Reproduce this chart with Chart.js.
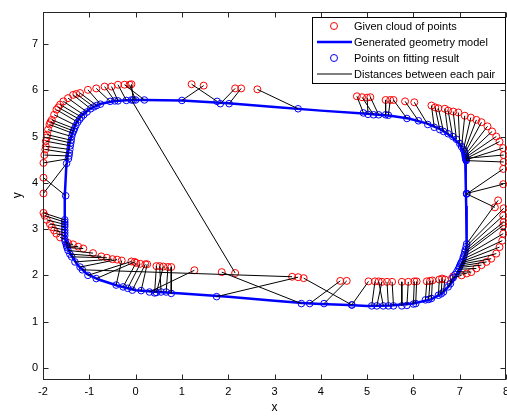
<!DOCTYPE html>
<html>
<head>
<meta charset="utf-8">
<script src="https://cdn.jsdelivr.net/npm/chart.js@4.4.1/dist/chart.umd.min.js"></script>
<style>
  html, body { margin: 0; padding: 0; background: #fff; overflow: hidden; }
  #wrap { width: 507px; height: 416px; overflow: hidden; }
</style>
</head>
<body>
<div id="wrap"><canvas id="grafico" width="511" height="416"></canvas></div>
<script>
var xTicks = [-2, -1, 0, 1, 2, 3, 4, 5, 6, 7, 8];
var yTicks = [0, 1, 2, 3, 4, 5, 6, 7];

// given cloud of points (red) and the matching points on the fitted model (blue), pair by pair
var cloudX = [-1.99, -1.99, -1.99, -1.97, -1.95, -1.94, -1.94, -1.92, -1.91, -1.89, -1.86, -1.84, -1.81, -1.76, -1.71, -1.67, -1.63, -1.56, -1.46, -1.35, -1.28, -1.20, -1.03, -0.85, -0.67, -0.52, -0.38, -0.24, -0.13, -0.09,
  1.21, 1.47, 2.15, 2.28, 2.63, 4.78, 4.89, 5.00, 5.07, 5.40, 5.50, 5.57, 5.82, 6.02,
  6.39, 6.47, 6.54, 6.68, 6.75, 6.86, 6.97, 7.11, 7.24, 7.36, 7.47, 7.60, 7.70, 7.79, 7.86, 7.94, 7.95, 7.95, 7.94, 7.94, 7.76,
  7.83, 7.95, 7.94, 7.95, 7.94, 7.94, 7.92, 7.86, 7.79, 7.68, 7.58, 7.47, 7.36, 7.25, 7.15, 7.04,
  6.86, 6.83, 6.68, 6.62, 6.56, 6.41, 6.36, 6.29, 6.07, 6.02, 5.89, 5.75, 5.54, 5.43, 5.32, 5.25, 5.17, 5.03,
  4.56, 4.42, 3.63, 3.51, 3.38, 2.15, 1.86, 1.27,
  0.77, 0.70, 0.60, 0.52, 0.45, 0.25, 0.21, 0.10, 0.01, -0.02, -0.09, -0.30,
  -0.40, -0.50, -0.62, -0.74, -0.92, -1.13, -1.24, -1.35, -1.46, -1.63, -1.71, -1.76, -1.81, -1.85, -1.92, -1.96, -1.99];
var cloudY = [4.11, 3.77, 4.43, 4.60, 4.72, 4.79, 4.90, 4.98, 5.04, 5.15, 5.26, 5.31, 5.36, 5.47, 5.58, 5.63, 5.69, 5.76, 5.83, 5.90, 5.92, 5.94, 6.01, 6.04, 6.08, 6.08, 6.12, 6.12, 6.12, 6.13,
  6.13, 6.10, 6.04, 6.04, 6.02, 5.87, 5.85, 5.84, 5.85, 5.79, 5.79, 5.79, 5.76, 5.74,
  5.67, 5.63, 5.61, 5.60, 5.56, 5.54, 5.52, 5.45, 5.41, 5.36, 5.31, 5.22, 5.11, 5.00, 4.89, 4.75, 4.60, 4.45, 4.30, 3.97, 3.47,
  3.62, 3.45, 3.29, 3.15, 3.08, 2.90, 2.75, 2.61, 2.47, 2.36, 2.29, 2.22, 2.15, 2.07, 2.04, 2.00,
  1.98, 1.93, 1.91, 1.93, 1.91, 1.89, 1.88, 1.87, 1.87, 1.87, 1.86, 1.86, 1.86, 1.86, 1.86, 1.87, 1.87, 1.87,
  1.88, 1.88, 1.94, 1.96, 1.97, 2.05, 2.07, 2.11,
  2.18, 2.18, 2.19, 2.20, 2.20, 2.24, 2.24, 2.25, 2.27, 2.29, 2.30, 2.32,
  2.34, 2.35, 2.38, 2.41, 2.48, 2.58, 2.62, 2.67, 2.70, 2.82, 2.90, 2.97, 3.04, 3.11, 3.20, 3.29, 3.35];
var fitX = [-1.51, -1.49, -1.45, -1.44, -1.43, -1.42, -1.41, -1.40, -1.39, -1.38, -1.36, -1.34, -1.32, -1.29, -1.25, -1.21, -1.17, -1.12, -1.05, -0.97, -0.90, -0.84, -0.76, -0.55, -0.45, -0.38, -0.20, 0.19, 0.00, -0.05,
  1.76, 1.00, 1.83, 2.02, 3.51, 4.92, 5.14, 5.02, 5.25, 5.40, 5.46, 5.86, 6.11, 6.31,
  6.45, 6.57, 6.65, 6.75, 6.85, 6.93, 7.00, 7.04, 7.08, 7.10, 7.11, 7.12, 7.12, 7.13, 7.13, 7.14, 7.13, 7.14, 7.15, 7.15, 7.15,
  7.15, 7.14, 7.12, 7.11, 7.10, 7.08, 7.07, 7.05, 7.03, 7.02, 7.00, 6.99, 6.97, 6.94, 6.90, 6.86,
  6.80, 6.75, 6.65, 6.60, 6.54, 6.39, 6.33, 6.26, 6.05, 6.00, 5.86, 5.75, 5.57, 5.46, 5.21, 5.35, 5.10, 4.67,
  4.07, 3.76, 4.67, 1.75, -1.15, -0.09, 3.58, 0.30,
  0.77, 0.66, 0.45, 0.55, 0.41, 0.12, -0.07, -0.17, -0.27, -0.85, -1.03, -0.42,
  -1.20, -1.31, -1.38, -1.42, -1.46, -1.48, -1.49, -1.50, -1.52, -1.53, -1.53, -1.53, -1.53, -1.53, -1.53, -1.53, -1.53];
var fitY = [3.72, 4.42, 4.52, 4.58, 4.64, 4.72, 4.80, 4.86, 4.92, 5.00, 5.07, 5.12, 5.17, 5.24, 5.31, 5.37, 5.42, 5.47, 5.53, 5.60, 5.64, 5.67, 5.70, 5.76, 5.77, 5.77, 5.78, 5.79, 5.79, 5.79,
  5.76, 5.78, 5.71, 5.71, 5.60, 5.51, 5.47, 5.48, 5.47, 5.47, 5.46, 5.39, 5.34, 5.26,
  5.20, 5.15, 5.11, 5.06, 5.00, 4.94, 4.85, 4.78, 4.72, 4.68, 4.64, 4.60, 4.57, 4.55, 4.52, 4.50, 4.53, 4.48, 3.76, 3.77, 3.76,
  2.68, 2.62, 2.55, 2.50, 2.45, 2.40, 2.35, 2.30, 2.27, 2.24, 2.20, 2.17, 2.13, 2.08, 2.02, 1.95,
  1.82, 1.75, 1.64, 1.60, 1.57, 1.50, 1.48, 1.47, 1.39, 1.38, 1.35, 1.34, 1.34, 1.34, 1.34, 1.34, 1.34, 1.36,
  1.39, 1.39, 1.36, 1.54, 2.12, 5.79, 1.39, 1.64,
  1.61, 1.64, 1.63, 1.64, 1.62, 1.67, 1.68, 1.72, 1.75, 1.93, 2.00, 1.79,
  2.18, 2.29, 2.40, 2.46, 2.54, 2.60, 2.64, 2.68, 2.73, 2.78, 2.86, 2.92, 2.98, 3.05, 3.10, 3.15, 3.20];

// generated geometry model (closed outline)
var modelX = [-0.1, 0.2, 1.0, 2.0, 3.0, 4.0, 5.0, 5.5, 5.9, 6.3, 6.6, 6.85, 7.0, 7.08, 7.12, 7.13, 7.14, 7.15, 7.15, 7.12, 7.06, 6.96, 6.82, 6.62, 6.38, 6.0, 5.5, 5.0, 4.6, 4.0, 3.6, 3.0, 2.0, 1.0, 0.5, 0.0, -0.4, -0.8, -1.05, -1.25, -1.4, -1.48, -1.52, -1.53, -1.53, -1.5, -1.47, -1.43, -1.38, -1.3, -1.18, -1.0, -0.75, -0.45, -0.1];
var modelY = [5.79, 5.79, 5.78, 5.72, 5.64, 5.56, 5.49, 5.45, 5.39, 5.28, 5.15, 4.98, 4.83, 4.68, 4.5, 4.0, 3.5, 3.0, 2.65, 2.47, 2.28, 2.07, 1.83, 1.61, 1.48, 1.39, 1.35, 1.34, 1.36, 1.38, 1.40, 1.45, 1.54, 1.61, 1.64, 1.68, 1.78, 1.91, 2.03, 2.22, 2.45, 2.62, 2.8, 3.2, 3.7, 4.3, 4.58, 4.84, 5.03, 5.26, 5.44, 5.59, 5.71, 5.77, 5.79];

var nomes = ["Given cloud of points", "Generated geometry model", "Points on fitting result", "Distances between each pair"];

var fonte = "'Liberation Sans', Arial, sans-serif";

var pontos = function (xs, ys) {
  return xs.map(function (x, i) { return {x: x, y: ys[i]}; });
};

var distancias = [];
cloudX.forEach(function (x, i) {
  distancias.push({x: x, y: cloudY[i]}, {x: fitX[i], y: fitY[i]}, {x: null, y: null});
});

// box, inward ticks and the legend, MATLAB style
var moldura = {
  id: 'moldura',
  afterDraw: function (chart) {
    var ctx = chart.ctx, a = chart.chartArea;
    var sx = chart.scales.x, sy = chart.scales.y;
    var l = Math.round(a.left) + 0.5, r = Math.round(a.right) - 0.5;
    var t = Math.round(a.top) + 0.5, b = Math.round(a.bottom) + 0.5;
    ctx.save();
    ctx.strokeStyle = '#262626';
    ctx.lineWidth = 1;
    ctx.strokeRect(l, t, r - l, b - t);
    ctx.beginPath();
    xTicks.forEach(function (v) {
      var px = Math.round(sx.getPixelForValue(v)) + 0.5;
      ctx.moveTo(px, b); ctx.lineTo(px, b - 5);
      ctx.moveTo(px, t); ctx.lineTo(px, t + 5);
    });
    yTicks.forEach(function (v) {
      var py = Math.round(sy.getPixelForValue(v)) + 0.5;
      ctx.moveTo(l, py); ctx.lineTo(l + 5, py);
      ctx.moveTo(r, py); ctx.lineTo(r - 5, py);
    });
    ctx.stroke();

    // legend
    var lx = 312.5, ly = 17.5, lw = 193, lh = 66;
    ctx.fillStyle = '#fff';
    ctx.fillRect(lx, ly, lw, lh);
    ctx.strokeStyle = '#000';
    ctx.strokeRect(lx, ly, lw, lh);
    var ds = chart.data.datasets;
    var ordem = [3, 2, 1, 0];
    ctx.font = '11px ' + fonte;
    ctx.textBaseline = 'middle';
    ctx.textAlign = 'left';
    ordem.forEach(function (k, i) {
      var d = ds[k];
      var cy = 26 + i * 16;
      if (d.showLine) {
        ctx.strokeStyle = d.borderColor;
        ctx.lineWidth = d.borderWidth;
        ctx.beginPath();
        ctx.moveTo(317, cy); ctx.lineTo(352, cy);
        ctx.stroke();
      } else {
        ctx.strokeStyle = d.borderColor;
        ctx.lineWidth = 1;
        ctx.beginPath();
        ctx.arc(334, cy, 3.5, 0, Math.PI * 2);
        ctx.stroke();
      }
      ctx.fillStyle = '#000';
      ctx.fillText(d.label, 354, cy + 0.5);
    });
    ctx.restore();
  }
};

var relatorio = document.getElementById('grafico').getContext('2d');

var grafico = new Chart(relatorio, {
  type: 'scatter',
  data: {
    datasets: [{
      label: nomes[3],
      data: distancias,
      showLine: true,
      borderColor: '#000',
      borderWidth: 1,
      pointRadius: 0,
      pointHitRadius: 0,
      spanGaps: false,
      order: 0
    }, {
      label: nomes[2],
      data: pontos(fitX, fitY),
      borderColor: '#0000ff',
      backgroundColor: 'rgba(0,0,0,0)',
      borderWidth: 1,
      pointRadius: 3.3,
      order: 1,
      clip: false
    }, {
      label: nomes[1],
      data: pontos(modelX, modelY),
      showLine: true,
      borderColor: '#0000ff',
      borderWidth: 2.5,
      pointRadius: 0,
      pointHitRadius: 0,
      tension: 0,
      order: 2
    }, {
      label: nomes[0],
      data: pontos(cloudX, cloudY),
      borderColor: '#ff0000',
      backgroundColor: 'rgba(0,0,0,0)',
      borderWidth: 1,
      pointRadius: 3.5,
      order: 3,
      clip: false
    }]
  },
  options: {
    responsive: false,
    animation: false,
    layout: { padding: { top: 10, right: 3, left: 0, bottom: 0 } },
    plugins: {
      legend: { display: false },
      tooltip: { enabled: false }
    },
    scales: {
      x: {
        type: 'linear',
        min: -2,
        max: 8,
        afterBuildTicks: function (s) { s.ticks = xTicks.map(function (v) { return {value: v}; }); },
        afterFit: function (s) { s.height = 37; s.paddingLeft = 0; s.paddingRight = 0; },
        grid: { display: false, drawTicks: false },
        border: { display: false },
        ticks: { padding: 6, color: '#000', autoSkip: false, maxRotation: 0, font: { family: fonte, size: 11 } },
        title: { display: true, text: 'x', color: '#000', font: { family: fonte, size: 12 }, padding: { top: 0, bottom: 1 } }
      },
      y: {
        type: 'linear',
        min: -0.24,
        max: 7.7,
        afterBuildTicks: function (s) { s.ticks = yTicks.map(function (v) { return {value: v}; }); },
        afterFit: function (s) { s.width = 43; },
        grid: { display: false, drawTicks: false },
        border: { display: false },
        ticks: { padding: 5, color: '#000', autoSkip: false, font: { family: fonte, size: 11 } },
        title: { display: true, text: 'y', color: '#000', font: { family: fonte, size: 12 }, padding: { top: 10, bottom: 0 } }
      }
    }
  },
  plugins: [moldura]
});
</script>
</body>
</html>
